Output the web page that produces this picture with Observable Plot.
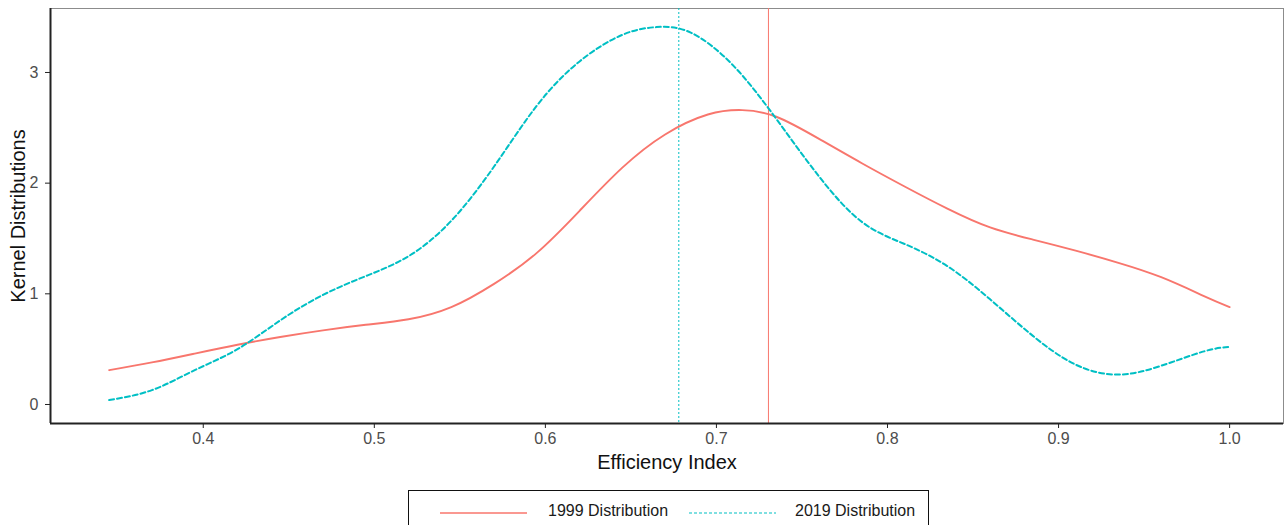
<!DOCTYPE html>
<html>
<head>
<meta charset="utf-8">
<script src="https://cdn.jsdelivr.net/npm/d3@7"></script>
<script src="https://cdn.jsdelivr.net/npm/@observablehq/plot@0.6"></script>
<style>
  html, body { margin: 0; padding: 0; background: #fff; }
  body { font-family: "Liberation Sans", Arial, sans-serif; width: 1285px; height: 525px; overflow: hidden; position: relative; }
  #legend { position: absolute; left: 408px; top: 490px; width: 521px; height: 60px; border: 1.5px solid #111; box-sizing: border-box; background: #fff; }
  #legend .sw { position: absolute; top: 12px; }
  #legend .lab { position: absolute; top: 10px; font-size: 16px; color: #1a1a1a; line-height: 20px; white-space: nowrap; }
</style>
</head>
<body>
<div id="chart"></div>
<div id="legend"></div>
<script>
// ---- data ----
const seriesNames = ["1999 Distribution", "2019 Distribution"];
const seriesColors = ["#F8766D", "#00BFC4"];

const x1999 = [0.345, 0.37, 0.395, 0.42, 0.445, 0.47, 0.495, 0.52, 0.545, 0.57, 0.595, 0.62, 0.645, 0.67, 0.695, 0.715, 0.735, 0.76, 0.785, 0.81, 0.835, 0.86, 0.885, 0.91, 0.935, 0.96, 0.985, 1.0];
const y1999 = [0.31, 0.38, 0.46, 0.54, 0.61, 0.67, 0.72, 0.77, 0.88, 1.09, 1.37, 1.75, 2.14, 2.44, 2.62, 2.66, 2.60, 2.40, 2.18, 1.97, 1.77, 1.60, 1.49, 1.39, 1.28, 1.15, 0.98, 0.88];

const x2019 = [0.345, 0.37, 0.395, 0.42, 0.445, 0.47, 0.495, 0.52, 0.545, 0.57, 0.595, 0.62, 0.645, 0.665, 0.685, 0.71, 0.735, 0.76, 0.785, 0.81, 0.835, 0.86, 0.885, 0.91, 0.935, 0.96, 0.985, 1.0];
const y2019 = [0.04, 0.13, 0.31, 0.50, 0.76, 0.99, 1.16, 1.34, 1.66, 2.15, 2.70, 3.10, 3.34, 3.41, 3.36, 3.06, 2.58, 2.06, 1.65, 1.45, 1.25, 0.95, 0.62, 0.36, 0.27, 0.35, 0.48, 0.52];

const mean1999 = 0.7304;
const mean2019 = 0.678;

const xTicks = [0.4, 0.5, 0.6, 0.7, 0.8, 0.9, 1.0];
const yTicks = [0, 1, 2, 3];
const xTitle = "Efficiency Index";
const yTitle = "Kernel Distributions";

// ---- build tables ----
const d1999 = x1999.map((x, i) => ({x, y: y1999[i]}));
const d2019 = x2019.map((x, i) => ({x, y: y2019[i]}));

const xDomain = [0.3107, 1.0315];
const yDomain = [-0.1717, 3.578];
const font = "Liberation Sans, Arial, sans-serif";

const chart = Plot.plot({
  width: 1285,
  height: 480,
  marginLeft: 50,
  marginRight: 2,
  marginTop: 8,
  marginBottom: 57,
  style: {fontFamily: font, background: "#fff", fontSize: "16px", overflow: "visible"},
  x: {domain: xDomain},
  y: {domain: yDomain},
  marks: [
    Plot.frame({stroke: "#8c8c8c", strokeWidth: 1}),
    Plot.ruleX([mean2019], {stroke: seriesColors[1], strokeWidth: 1, strokeDasharray: "2,2"}),
    Plot.ruleX([mean1999], {stroke: seriesColors[0], strokeWidth: 1}),
    Plot.line(d1999, {x: "x", y: "y", stroke: seriesColors[0], strokeWidth: 1.9, curve: "natural"}),
    Plot.line(d2019, {x: "x", y: "y", stroke: seriesColors[1], strokeWidth: 2, strokeDasharray: "5,3", curve: "natural"}),
    Plot.ruleX([xDomain[0]], {stroke: "#222", strokeWidth: 2}),
    Plot.ruleY([yDomain[0]], {stroke: "#222", strokeWidth: 2}),
    Plot.axisX({ticks: xTicks, tickFormat: d3.format(".1f"), tickSize: 5, tickPadding: 4, fontSize: 16, color: "#4d4d4d", stroke: "#222", label: null}),
    Plot.axisY({ticks: yTicks, tickFormat: d3.format("d"), tickSize: 5, tickPadding: 7, fontSize: 16, color: "#4d4d4d", stroke: "#222", label: null}),
    Plot.text([xTitle], {frameAnchor: "bottom", dy: 39, fontSize: 20, fill: "#111", lineAnchor: "middle", textAnchor: "middle"}),
    Plot.text([yTitle], {frameAnchor: "left", dx: -32, rotate: -90, fontSize: 20, fill: "#111", lineAnchor: "middle", textAnchor: "middle"})
  ]
});
document.getElementById("chart").appendChild(chart);

// ---- legend ----
const legend = d3.select("#legend");
const swX = [31, 280];
const labX = [139, 386];
seriesNames.forEach((name, i) => {
  const svg = legend.append("svg").attr("class", "sw")
    .style("left", swX[i] + "px").attr("width", 88).attr("height", 20);
  svg.append("line").attr("x1", 0).attr("x2", 87).attr("y1", 10).attr("y2", 10)
    .attr("stroke", seriesColors[i]).attr("stroke-width", i === 0 ? 1.5 : 1.2)
    .attr("stroke-dasharray", i === 0 ? null : "3,2");
  legend.append("div").attr("class", "lab").style("left", labX[i] + "px").text(name);
});
</script>
</body>
</html>
